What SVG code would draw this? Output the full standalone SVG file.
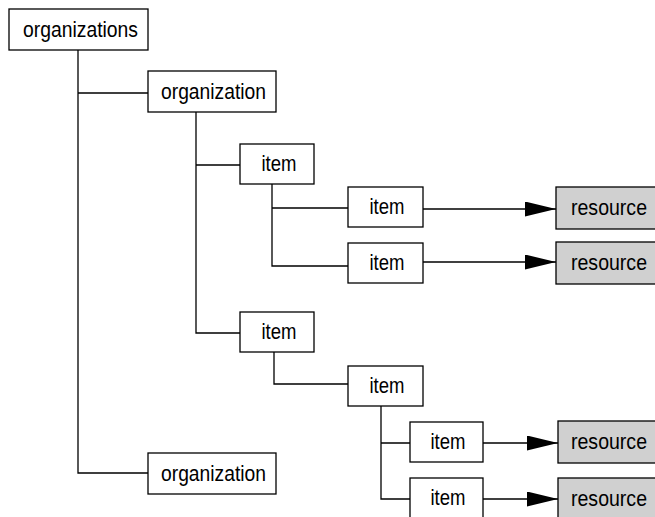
<svg xmlns="http://www.w3.org/2000/svg" width="655" height="517" viewBox="0 0 655 517">
<style>
  .box { fill: #ffffff; stroke: #000000; stroke-width: 1.3; }
  .res { fill: #d0d0d0; stroke: #000000; stroke-width: 1.3; }
  .lbl { font-family: "Liberation Sans", Arial, sans-serif; font-size: 22px; fill: #000000; text-anchor: middle; }
  .ln { fill: none; stroke: #000000; stroke-width: 1.3; }
</style>
<defs>
  <marker id="arr" markerUnits="userSpaceOnUse" markerWidth="32" markerHeight="16" refX="31" refY="7.5" orient="auto">
    <path d="M0,0 L31,7.5 L0,15 Z" fill="#000000"/>
  </marker>
</defs>
<rect width="655" height="517" fill="#ffffff"/>
<g id="connectors">
  <path class="ln" d="M78,50 V473 H148 M78,93 H148"/>
  <path class="ln" d="M196,112 V333 H240 M196,165 H240"/>
  <path class="ln" d="M272,184 V266 H348 M272,208 H348"/>
  <path class="ln" d="M274,352 V384 H348"/>
  <path class="ln" d="M381,406 V499 H410 M381,443 H410"/>
  <line class="ln" x1="423" y1="209" x2="556" y2="209" marker-end="url(#arr)"/>
  <line class="ln" x1="423" y1="262" x2="556" y2="262" marker-end="url(#arr)"/>
  <line class="ln" x1="483" y1="443" x2="558" y2="443" marker-end="url(#arr)"/>
  <line class="ln" x1="483" y1="499" x2="558" y2="499" marker-end="url(#arr)"/>
</g>
<g id="organizations">
  <rect class="box" x="9" y="9" width="139" height="41"/>
  <text class="lbl" x="80.5" y="37" textLength="115" lengthAdjust="spacingAndGlyphs">organizations</text>
</g>
<g id="organization1">
  <rect class="box" x="148" y="71" width="128" height="41"/>
  <text class="lbl" x="213.5" y="99" textLength="105" lengthAdjust="spacingAndGlyphs">organization</text>
</g>
<g id="itemA">
  <rect class="box" x="240" y="144" width="74" height="40"/>
  <text class="lbl" x="279" y="171.3" textLength="35" lengthAdjust="spacingAndGlyphs">item</text>
</g>
<g id="itemA1">
  <rect class="box" x="348" y="187" width="75" height="40"/>
  <text class="lbl" x="387" y="214.3" textLength="35" lengthAdjust="spacingAndGlyphs">item</text>
</g>
<g id="itemA2">
  <rect class="box" x="348" y="243" width="75" height="40"/>
  <text class="lbl" x="387" y="270.3" textLength="35" lengthAdjust="spacingAndGlyphs">item</text>
</g>
<g id="resource1">
  <rect class="res" x="556" y="187" width="100" height="42"/>
  <text class="lbl" x="609" y="214.5" textLength="76" lengthAdjust="spacingAndGlyphs">resource</text>
</g>
<g id="resource2">
  <rect class="res" x="556" y="242" width="100" height="42"/>
  <text class="lbl" x="609" y="269.5" textLength="76" lengthAdjust="spacingAndGlyphs">resource</text>
</g>
<g id="itemB">
  <rect class="box" x="240" y="312" width="74" height="40"/>
  <text class="lbl" x="279" y="339.3" textLength="35" lengthAdjust="spacingAndGlyphs">item</text>
</g>
<g id="itemB1">
  <rect class="box" x="348" y="366" width="75" height="40"/>
  <text class="lbl" x="387" y="393.3" textLength="35" lengthAdjust="spacingAndGlyphs">item</text>
</g>
<g id="itemB1a">
  <rect class="box" x="410" y="422" width="73" height="40"/>
  <text class="lbl" x="448" y="449.3" textLength="35" lengthAdjust="spacingAndGlyphs">item</text>
</g>
<g id="itemB1b">
  <rect class="box" x="410" y="478" width="73" height="40"/>
  <text class="lbl" x="448" y="505.3" textLength="35" lengthAdjust="spacingAndGlyphs">item</text>
</g>
<g id="resource3">
  <rect class="res" x="558" y="421" width="98" height="42"/>
  <text class="lbl" x="609" y="448.5" textLength="76" lengthAdjust="spacingAndGlyphs">resource</text>
</g>
<g id="resource4">
  <rect class="res" x="558" y="478" width="98" height="40"/>
  <text class="lbl" x="609" y="505.5" textLength="76" lengthAdjust="spacingAndGlyphs">resource</text>
</g>
<g id="organization2">
  <rect class="box" x="148" y="453" width="128" height="41"/>
  <text class="lbl" x="213.5" y="481" textLength="105" lengthAdjust="spacingAndGlyphs">organization</text>
</g>
</svg>
